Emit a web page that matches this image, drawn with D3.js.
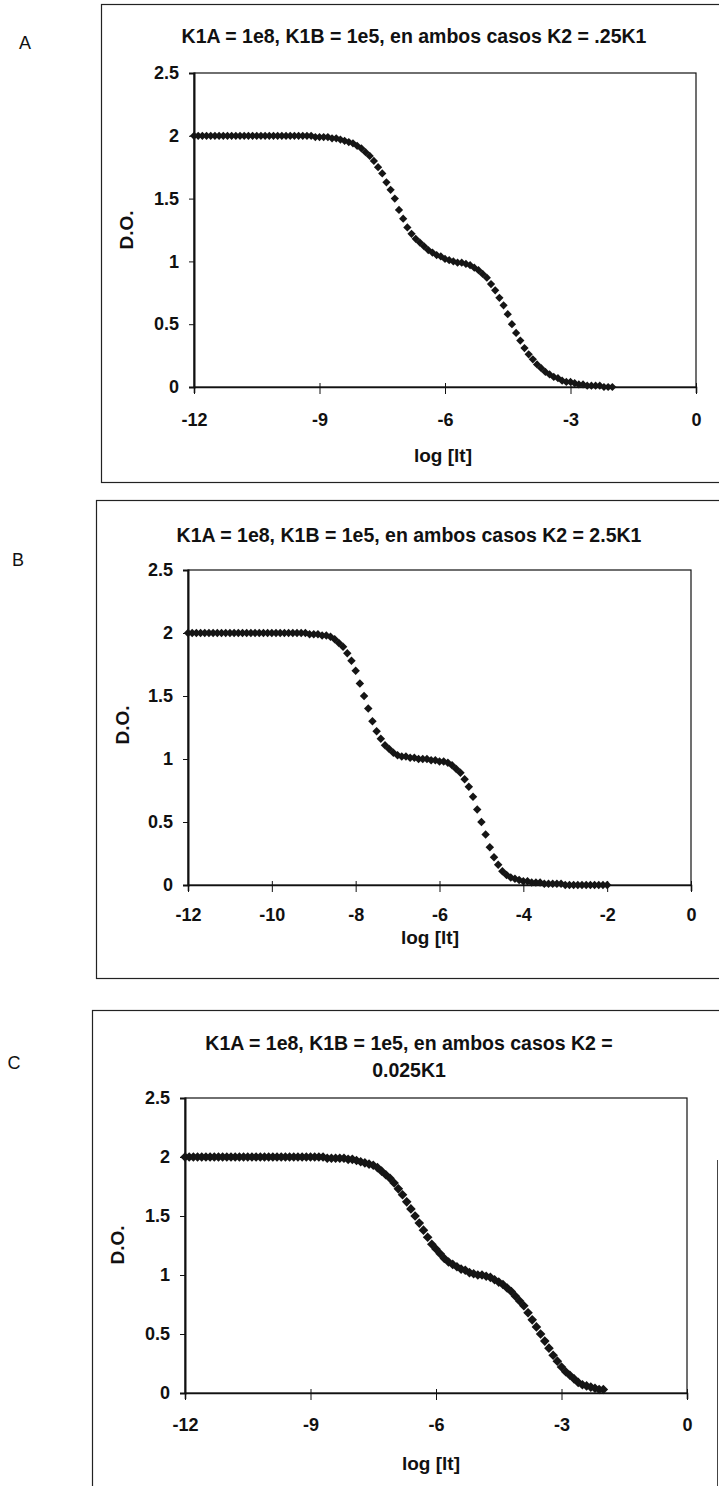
<!DOCTYPE html>
<html>
<head>
<meta charset="utf-8">
<script src="https://cdn.jsdelivr.net/npm/d3@7"></script>
<style>
  body { margin: 0; background: #fff; }
  svg { display: block; }
  text { font-family: "Liberation Sans", Arial, sans-serif; fill: #111; }
</style>
</head>
<body>
<svg id="fig" width="719" height="1486"></svg>
<script>
// log [lt] sampling grid shared by the three simulations
const logIt = [
  -12.0, -11.9, -11.8, -11.7, -11.6, -11.5, -11.4, -11.3, -11.2, -11.1,
  -11.0, -10.9, -10.8, -10.7, -10.6, -10.5, -10.4, -10.3, -10.2, -10.1,
  -10.0, -9.9, -9.8, -9.7, -9.6, -9.5, -9.4, -9.3, -9.2, -9.1,
  -9.0, -8.9, -8.8, -8.7, -8.6, -8.5, -8.4, -8.3, -8.2, -8.1,
  -8.0, -7.9, -7.8, -7.7, -7.6, -7.5, -7.4, -7.3, -7.2, -7.1,
  -7.0, -6.9, -6.8, -6.7, -6.6, -6.5, -6.4, -6.3, -6.2, -6.1,
  -6.0, -5.9, -5.8, -5.7, -5.6, -5.5, -5.4, -5.3, -5.2, -5.1,
  -5.0, -4.9, -4.8, -4.7, -4.6, -4.5, -4.4, -4.3, -4.2, -4.1,
  -4.0, -3.9, -3.8, -3.7, -3.6, -3.5, -3.4, -3.3, -3.2, -3.1,
  -3.0, -2.9, -2.8, -2.7, -2.6, -2.5, -2.4, -2.3, -2.2, -2.1,
  -2.0
];

// D.O. — K2 = .25K1
const doA = [
  2.00, 2.00, 2.00, 2.00, 2.00, 2.00, 2.00, 2.00, 2.00, 2.00,
  2.00, 2.00, 2.00, 2.00, 2.00, 2.00, 2.00, 2.00, 2.00, 2.00,
  2.00, 2.00, 2.00, 2.00, 2.00, 2.00, 2.00, 2.00, 2.00, 1.99,
  1.99, 1.99, 1.99, 1.98, 1.98, 1.97, 1.96, 1.95, 1.94, 1.92,
  1.90, 1.87, 1.84, 1.80, 1.75, 1.70, 1.63, 1.57, 1.50, 1.41,
  1.34, 1.27, 1.22, 1.18, 1.15, 1.12, 1.09, 1.07, 1.05, 1.04,
  1.02, 1.01, 1.00, 0.99, 0.99, 0.98, 0.97, 0.95, 0.93, 0.90,
  0.87, 0.82, 0.77, 0.71, 0.65, 0.58, 0.50, 0.43, 0.37, 0.31,
  0.26, 0.22, 0.18, 0.15, 0.12, 0.10, 0.08, 0.07, 0.05, 0.04,
  0.04, 0.03, 0.02, 0.02, 0.01, 0.01, 0.01, 0.01, 0.00, 0.00,
  0.00
];

// D.O. — K2 = 2.5K1
const doB = [
  2.00, 2.00, 2.00, 2.00, 2.00, 2.00, 2.00, 2.00, 2.00, 2.00,
  2.00, 2.00, 2.00, 2.00, 2.00, 2.00, 2.00, 2.00, 2.00, 2.00,
  2.00, 2.00, 2.00, 2.00, 2.00, 2.00, 2.00, 2.00, 2.00, 1.99,
  1.99, 1.99, 1.98, 1.98, 1.97, 1.95, 1.92, 1.89, 1.84, 1.78,
  1.70, 1.60, 1.50, 1.40, 1.30, 1.22, 1.16, 1.11, 1.08, 1.05,
  1.03, 1.02, 1.02, 1.01, 1.01, 1.00, 1.00, 1.00, 0.99, 0.99,
  0.98, 0.98, 0.97, 0.95, 0.92, 0.89, 0.84, 0.78, 0.70, 0.60,
  0.50, 0.40, 0.30, 0.22, 0.16, 0.11, 0.08, 0.06, 0.05, 0.04,
  0.03, 0.03, 0.02, 0.02, 0.02, 0.01, 0.01, 0.01, 0.01, 0.01,
  0.00, 0.00, 0.00, 0.00, 0.00, 0.00, 0.00, 0.00, 0.00, 0.00,
  0.00
];

// D.O. — K2 = 0.025K1
const doC = [
  2.00, 2.00, 2.00, 2.00, 2.00, 2.00, 2.00, 2.00, 2.00, 2.00,
  2.00, 2.00, 2.00, 2.00, 2.00, 2.00, 2.00, 2.00, 2.00, 2.00,
  2.00, 2.00, 2.00, 2.00, 2.00, 2.00, 2.00, 2.00, 2.00, 2.00,
  2.00, 2.00, 2.00, 2.00, 1.99, 1.99, 1.99, 1.99, 1.99, 1.98,
  1.98, 1.97, 1.96, 1.95, 1.94, 1.93, 1.91, 1.88, 1.85, 1.82,
  1.78, 1.73, 1.68, 1.62, 1.56, 1.50, 1.44, 1.38, 1.32, 1.26,
  1.22, 1.18, 1.14, 1.11, 1.09, 1.07, 1.05, 1.04, 1.02, 1.01,
  1.00, 1.00, 0.99, 0.98, 0.96, 0.94, 0.92, 0.89, 0.86, 0.82,
  0.78, 0.74, 0.68, 0.62, 0.56, 0.50, 0.44, 0.38, 0.32, 0.27,
  0.22, 0.18, 0.15, 0.12, 0.09, 0.07, 0.06, 0.05, 0.04, 0.03,
  0.03
];

// Axis ticks
const yTicks = [0, 0.5, 1, 1.5, 2, 2.5];
const xTicksThrees = [-12, -9, -6, -3, 0];
const xTicksTwos = [-12, -10, -8, -6, -4, -2, 0];

// Texts
const titleA = ["K1A = 1e8, K1B = 1e5, en ambos casos K2 = .25K1"];
const titleB = ["K1A = 1e8, K1B = 1e5, en ambos casos K2 = 2.5K1"];
const titleC = ["K1A = 1e8, K1B = 1e5, en ambos casos K2 =", "0.025K1"];
const yTitle = "D.O.";
const xTitle = "log [lt]";

// Panel layout (pixels)
const panels = [
  { letter: "A", values: doA, xTicks: xTicksThrees, title: titleA, marker: 34,
    frame: { x: 101, y: 4, b: 482 },
    plot: { l: 194, r: 696, t: 73, b: 387 },
    titleX: 414, titleY: 36, letterPos: [25, 43],
    yTitlePos: [126, 230], xTitlePos: [443, 455], tickLabelOff: 33 },
  { letter: "B", values: doB, xTicks: xTicksTwos, title: titleB, marker: 36,
    frame: { x: 96, y: 500, b: 978 },
    plot: { l: 188, r: 691, t: 570, b: 885 },
    titleX: 409, titleY: 535, letterPos: [18, 560],
    yTitlePos: [122, 725], xTitlePos: [430, 937], tickLabelOff: 30 },
  { letter: "C", values: doC, xTicks: xTicksThrees, title: titleC, marker: 46,
    frame: { x: 92, y: 1010, b: 1500 },
    plot: { l: 185, r: 687, t: 1098, b: 1393 },
    titleX: 409, titleY: 1043, letterPos: [14, 1063],
    yTitlePos: [117, 1245], xTitlePos: [431, 1463], tickLabelOff: 32 }
];

const svg = d3.select("#fig");
const ink = "#111";

panels.forEach(p => {
  const g = svg.append("g");
  // Diamond marker (square turned 45°)
  const diamond = d3.symbol().type(d3.symbolSquare).size(p.marker);

  // chart frame (runs off the right edge of the page)
  g.append("rect")
    .attr("x", p.frame.x + 0.5).attr("y", p.frame.y + 0.5)
    .attr("width", 740 - p.frame.x).attr("height", p.frame.b - p.frame.y)
    .attr("fill", "none").attr("stroke", "#222").attr("stroke-width", 1.2);

  // panel letter
  g.append("text")
    .attr("x", p.letterPos[0]).attr("y", p.letterPos[1])
    .attr("text-anchor", "middle").attr("dominant-baseline", "central")
    .style("font-size", "18px")
    .text(p.letter);

  // title
  p.title.forEach((line, i) => {
    g.append("text")
      .attr("x", p.titleX).attr("y", p.titleY + i * 27)
      .attr("text-anchor", "middle").attr("dominant-baseline", "central")
      .style("font-size", "19.5px").style("font-weight", "bold")
      .text(line);
  });

  const x = d3.scaleLinear().domain([-12, 0]).range([p.plot.l, p.plot.r]);
  const y = d3.scaleLinear().domain([0, 2.5]).range([p.plot.b, p.plot.t]);

  // plot area border
  g.append("rect")
    .attr("x", p.plot.l).attr("y", p.plot.t)
    .attr("width", p.plot.r - p.plot.l).attr("height", p.plot.b - p.plot.t)
    .attr("fill", "none").attr("stroke", ink).attr("stroke-width", 1.2);

  // y axis
  const yAxis = g.append("g")
    .attr("transform", `translate(${p.plot.l},0)`)
    .call(d3.axisLeft(y).tickValues(yTicks).tickSize(5).tickPadding(10)
      .tickFormat(d => String(d)));
  yAxis.select(".domain").attr("stroke", ink).attr("stroke-width", 2);
  yAxis.selectAll(".tick line").attr("stroke", ink);
  yAxis.selectAll(".tick text")
    .attr("fill", ink)
    .style("font-family", "'Liberation Sans', Arial, sans-serif")
    .style("font-size", "18px").style("font-weight", "bold");

  // x axis
  const xAxis = g.append("g")
    .attr("transform", `translate(0,${p.plot.b})`)
    .call(d3.axisBottom(x).tickValues(p.xTicks).tickSize(6).tickPadding(0)
      .tickFormat(d => String(d)));
  xAxis.select(".domain").attr("stroke", ink).attr("stroke-width", 1.6);
  xAxis.selectAll(".tick line").attr("stroke", ink).attr("y1", -4).attr("y2", 7);
  xAxis.selectAll(".tick text")
    .attr("fill", ink)
    .attr("y", p.tickLabelOff).attr("dy", "0.35em")
    .style("font-family", "'Liberation Sans', Arial, sans-serif")
    .style("font-size", "18px").style("font-weight", "bold");

  // axis titles
  g.append("text")
    .attr("transform", `translate(${p.yTitlePos[0]},${p.yTitlePos[1]}) rotate(-90)`)
    .attr("text-anchor", "middle").attr("dominant-baseline", "central")
    .style("font-size", "19px").style("font-weight", "bold")
    .text(yTitle);
  g.append("text")
    .attr("x", p.xTitlePos[0]).attr("y", p.xTitlePos[1])
    .attr("text-anchor", "middle").attr("dominant-baseline", "central")
    .style("font-size", "19px").style("font-weight", "bold")
    .text(xTitle);

  // data points
  g.append("g").selectAll("path")
    .data(logIt.map((L, i) => [L, p.values[i]]))
    .join("path")
    .attr("d", diamond)
    .attr("transform", d => `translate(${x(d[0])},${y(d[1])}) rotate(45)`)
    .attr("fill", "#151515");
});

// right edge of the last frame
svg.append("line")
  .attr("x1", 717.5).attr("x2", 717.5).attr("y1", 1160).attr("y2", 1486)
  .attr("stroke", "#444").attr("stroke-width", 1);
</script>
</body>
</html>
